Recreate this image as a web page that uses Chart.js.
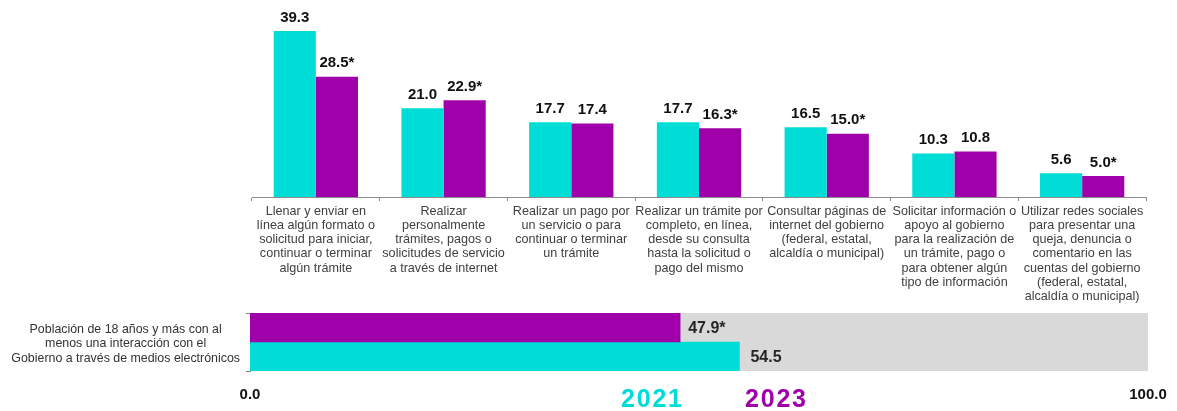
<!DOCTYPE html>
<html>
<head>
<meta charset="utf-8">
<script src="https://cdn.jsdelivr.net/npm/chart.js@4"></script>
<style>
  body { margin: 0; background: #fff; width: 1177px; height: 411px; overflow: hidden; position: relative; font-family: "Liberation Sans", Arial, sans-serif; }
  #topWrap { position: absolute; left: 0; top: 0; width: 1177px; height: 305px; }
  #bottomWrap { position: absolute; left: 0; top: 300px; width: 1177px; height: 111px; }
  .year { position: absolute; top: 386px; font-weight: bold; font-size: 25px; line-height: 25px; letter-spacing: 1.8px; }
</style>
</head>
<body>
<div id="topWrap"><canvas id="topChart" width="1177" height="305"></canvas></div>
<div id="bottomWrap"><canvas id="bottomChart" width="1177" height="111"></canvas></div>
<div class="year" id="year0" style="left:621px"></div>
<div class="year" id="year1" style="left:745px"></div>
<script>
// Categories for the upper chart (one array of lines each)
var categories = [
    ['Llenar y enviar en', 'línea algún formato o', 'solicitud para iniciar,', 'continuar o terminar', 'algún trámite'],
    ['Realizar', 'personalmente', 'trámites, pagos o', 'solicitudes de servicio', 'a través de internet'],
    ['Realizar un pago por', 'un servicio o para', 'continuar o terminar', 'un trámite'],
    ['Realizar un trámite por', 'completo, en línea,', 'desde su consulta', 'hasta la solicitud o', 'pago del mismo'],
    ['Consultar páginas de', 'internet del gobierno', '(federal, estatal,', 'alcaldía o municipal)'],
    ['Solicitar información o', 'apoyo al gobierno', 'para la realización de', 'un trámite, pago o', 'para obtener algún', 'tipo de información'],
    ['Utilizar redes sociales', 'para presentar una', 'queja, denuncia o', 'comentario en las', 'cuentas del gobierno', '(federal, estatal,', 'alcaldía o municipal)']
];

// Series values
var values2021 = [39.3, 21.0, 17.7, 17.7, 16.5, 10.3, 5.6];
var values2023 = [28.5, 22.9, 17.4, 16.3, 15.0, 10.8, 5.0];
// Statistically significant change marks (*)
var significant2023 = [true, true, false, true, true, false, true];

// Lower chart
var totalCategory = [['Población de 18 años y más con al', 'menos una interacción con el', 'Gobierno a través de medios electrónicos']];
var total2021 = [54.5];
var total2023 = [47.9];
var totalSignificant2023 = [true];
var totalBase = [100];

var years = ['2021', '2023'];
var scaleTicks = [0, 100];

var cyan = '#00DCD6';
var purple = '#A000AA';
var fontFamily = '"Liberation Sans", Arial, sans-serif';

document.getElementById('year0').textContent = years[0];
document.getElementById('year0').style.color = cyan;
document.getElementById('year1').textContent = years[1];
document.getElementById('year1').style.color = purple;

function fmt(v, star) {
    return v.toFixed(1) + (star ? '*' : '');
}

// Value labels above the vertical bars
var topLabels = {
    id: 'topLabels',
    afterDatasetsDraw: function (chart) {
        var ctx = chart.ctx;
        ctx.save();
        ctx.font = 'bold 15px ' + fontFamily;
        ctx.fillStyle = '#111111';
        ctx.textAlign = 'center';
        ctx.textBaseline = 'bottom';
        chart.data.datasets.forEach(function (ds, di) {
            chart.getDatasetMeta(di).data.forEach(function (bar, i) {
                var star = di === 1 && significant2023[i];
                ctx.fillText(fmt(ds.data[i], star), bar.x, bar.y - 6);
            });
        });
        ctx.restore();
    }
};

new Chart(document.getElementById('topChart').getContext('2d'), {
    type: 'bar',
    data: {
        labels: categories,
        datasets: [
            { label: years[0], data: values2021, backgroundColor: cyan },
            { label: years[1], data: values2023, backgroundColor: purple }
        ]
    },
    options: {
        responsive: false,
        animation: false,
        events: [],
        layout: { padding: { left: 252, right: 31, top: 7, bottom: 0 } },
        datasets: { bar: { barPercentage: 1, categoryPercentage: 0.66 } },
        plugins: { legend: { display: false }, tooltip: { enabled: false } },
        scales: {
            x: {
                border: { display: true, color: '#8c8c8c', width: 1 },
                grid: { display: true, drawOnChartArea: false, tickLength: 4, color: '#8c8c8c', offset: true },
                ticks: {
                    autoSkip: false, maxRotation: 0, minRotation: 0, padding: 3,
                    color: '#404040',
                    font: { family: fontFamily, size: 12.6, lineHeight: 1.13 }
                },
                afterFit: function (scale) { scale.height = 108; }
            },
            y: { display: false, min: 0, max: 45 }
        }
    },
    plugins: [topLabels]
});

// Value labels to the right of the horizontal bars
var bottomLabels = {
    id: 'bottomLabels',
    afterDatasetsDraw: function (chart) {
        var ctx = chart.ctx;
        ctx.save();
        ctx.font = 'bold 16px ' + fontFamily;
        ctx.fillStyle = '#262626';
        ctx.textAlign = 'left';
        ctx.textBaseline = 'middle';
        [0, 1].forEach(function (di) {
            var ds = chart.data.datasets[di];
            chart.getDatasetMeta(di).data.forEach(function (bar, i) {
                var star = di === 0 && totalSignificant2023[i];
                ctx.fillText(fmt(ds.data[i], star), bar.x + 8 + di * 3, bar.y + 1);
            });
        });
        ctx.restore();
    }
};

new Chart(document.getElementById('bottomChart').getContext('2d'), {
    type: 'bar',
    data: {
        labels: totalCategory,
        datasets: [
            { label: years[1], data: total2023, backgroundColor: purple, stack: 's2023', order: 1 },
            { label: years[0], data: total2021, backgroundColor: cyan, stack: 's2021', order: 1 },
            { label: 'base', data: totalBase, backgroundColor: '#D9D9D9', stack: 's2023', order: 2 },
            { label: 'base', data: totalBase, backgroundColor: '#D9D9D9', stack: 's2021', order: 2 }
        ]
    },
    options: {
        indexAxis: 'y',
        responsive: false,
        animation: false,
        events: [],
        layout: { padding: { left: 0, right: 29, top: 13, bottom: 0 } },
        datasets: { bar: { barPercentage: 1, categoryPercentage: 1 } },
        plugins: { legend: { display: false }, tooltip: { enabled: false } },
        scales: {
            x: {
                min: scaleTicks[0], max: scaleTicks[1],
                stacked: false,
                border: { display: false },
                grid: { display: false },
                ticks: {
                    stepSize: scaleTicks[1] - scaleTicks[0],
                    padding: 7,
                    color: '#111111',
                    font: { family: fontFamily, size: 15, weight: 'bold' },
                    callback: function (v) { return Number(v).toFixed(1); }
                },
                afterFit: function (scale) {
                    scale.height = 40;
                    scale.paddingLeft = 0;
                    scale.paddingRight = 0;
                }
            },
            y: {
                border: { display: true, color: '#7f7f7f', width: 1 },
                grid: { display: true, drawOnChartArea: false, tickLength: 4, color: '#7f7f7f', offset: true },
                ticks: {
                    crossAlign: 'center', padding: 6, labelOffset: 2,
                    color: '#333333',
                    font: { family: fontFamily, size: 12.4, lineHeight: 1.17 }
                },
                afterFit: function (scale) {
                    scale.width = 250;
                    scale.paddingTop = 0;
                    scale.paddingBottom = 0;
                }
            }
        }
    },
    plugins: [bottomLabels]
});
</script>
</body>
</html>
